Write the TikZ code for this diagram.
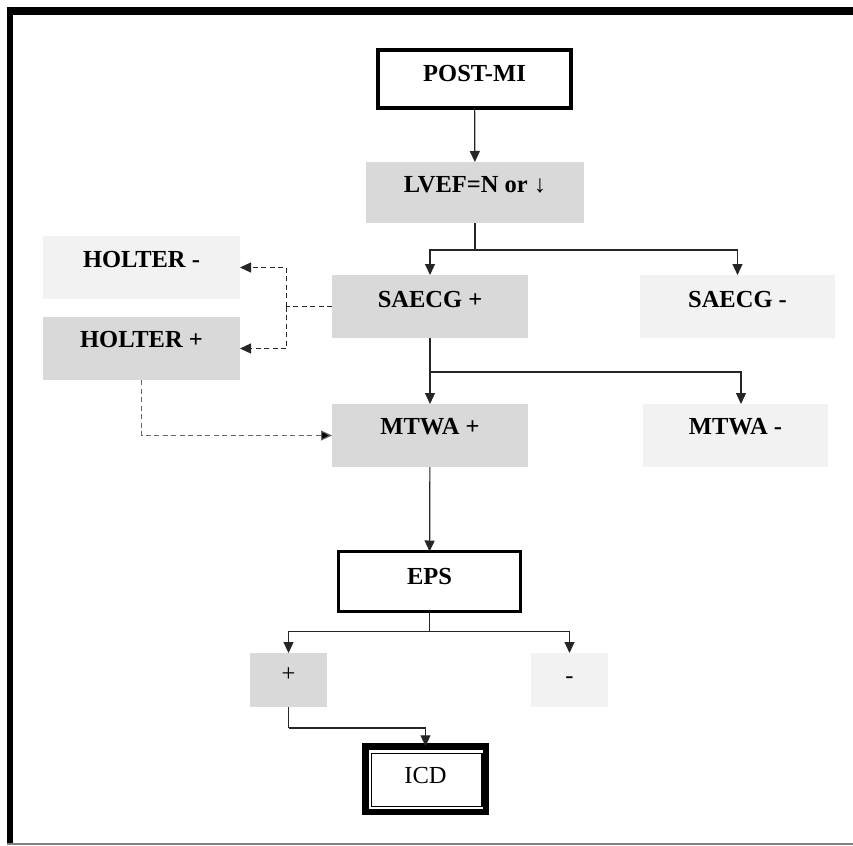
\documentclass[tikz,border=0pt]{standalone}
\usepackage{fontspec}
\setmainfont{Liberation Serif}
\usetikzlibrary{arrows.meta}
\definecolor{boxdark}{HTML}{D9D9D9}
\definecolor{boxlight}{HTML}{F2F2F2}
\definecolor{dashgray}{HTML}{666666}
\definecolor{linegray}{HTML}{808080}
\begin{document}
\begin{tikzpicture}[x=1pt,y=-1pt,
  box/.style={rectangle, inner sep=0pt, outer sep=0pt, text height=16.2pt, text depth=0pt, align=center,
    font=\fontsize{24.5pt}{29pt}\selectfont\bfseries},
  dark/.style={box, fill=boxdark},
  light/.style={box, fill=boxlight},
  framed/.style={box, draw=black, fill=white},
  regular/.style={font=\fontsize{24.5pt}{29pt}\selectfont\mdseries},
  conn/.style={line width=1.2pt, draw=black!85},
  arr/.style={conn, -{Triangle[length=11pt,width=10pt]}},
  dsh/.style={line width=1.2pt, draw=black!85, dash pattern=on 5pt off 3.5pt},
  dsharr/.style={dsh, -{Triangle[length=11pt,width=10pt]}},
  gdsharr/.style={line width=1.2pt, draw=dashgray, dash pattern=on 5pt off 3.5pt, -{Triangle[length=11pt,width=10pt,fill=black]}}
]
\useasboundingbox (0,0) rectangle (853,845);
\fill[white] (0,0) rectangle (853,845);
% outer frame
\fill[black] (7,7) rectangle (853,15);
\fill[black] (7,7) rectangle (13,845);
\draw[linegray, line width=1.2pt] (7,844) -- (853,844);

% nodes
\node[framed, line width=4pt, minimum width=193pt, minimum height=58pt] (post) at (474.5,79) {\raisebox{5.5pt}{POST-MI}};
\node[dark, minimum width=218pt, minimum height=61pt] (lvef) at (475,192.5) {\raisebox{8pt}{LVEF=N or ↓}};
\node[light, minimum width=197pt, minimum height=63pt] (holm) at (141.5,267.5) {\raisebox{8pt}{HOLTER -}};
\node[dark, minimum width=197pt, minimum height=63pt] (holp) at (141.5,348.5) {\raisebox{9pt}{HOLTER +}};
\node[dark, minimum width=196pt, minimum height=63pt] (saep) at (430,306.5) {\raisebox{7pt}{SAECG +}};
\node[light, minimum width=195pt, minimum height=63pt] (saem) at (737.5,306.5) {\raisebox{7pt}{SAECG -}};
\node[dark, minimum width=196pt, minimum height=63pt] (mtwp) at (430,435.5) {\raisebox{9pt}{MTWA +}};
\node[light, minimum width=185pt, minimum height=63pt] (mtwm) at (735.5,435.5) {\raisebox{9pt}{MTWA -}};
\node[framed, line width=3pt, minimum width=182pt, minimum height=60pt] (eps) at (429.5,581.5) {\raisebox{5.5pt}{EPS}};
\node[dark, regular, minimum width=77pt, minimum height=54pt] (plus) at (288.5,680) {\raisebox{7pt}{+}};
\node[light, regular, minimum width=77pt, minimum height=54pt] (minus) at (569.5,680) {\raisebox{5pt}{-}};
\node[framed, regular, line width=6.5pt, minimum width=120.5pt, minimum height=65.5pt] (icd) at (425.5,779) {\raisebox{3.5pt}{ICD}};
\draw[black, line width=1.3pt] (371.3,753.3) rectangle (482,806.3);

% connectors
\draw[arr] (post) -- (lvef);
\draw[conn] (lvef.south) -- ++(0,27) coordinate (j1);
\draw[arr] (j1) -| (saep.north);
\draw[arr] (j1) -| (saem.north);
\draw[conn] (saep.south) -- ++(0,34) coordinate (j2);
\draw[arr] (j2) -| (mtwp.north);
\draw[arr] (j2) -| ([xshift=5.5pt]mtwm.north);
\draw[arr] (mtwp) -- (eps);
\draw[conn] (eps.south) -- ++(0,20) coordinate (j3);
\draw[arr] (j3) -| (plus.north);
\draw[arr] (j3) -| (minus.north);
\draw[conn] (plus.south) -- ++(0,21) coordinate (j5);
\draw[arr] (j5) -| (icd.north);
% dashed
\coordinate (j4) at (286.5,306.5);
\draw[dsh] (saep.west) -- (j4);
\draw[dsharr] (j4) |- (holm.east);
\draw[dsharr] (j4) |- (holp.east);
\draw[gdsharr] (holp.south) |- (mtwp.west);
\end{tikzpicture}
\end{document}
